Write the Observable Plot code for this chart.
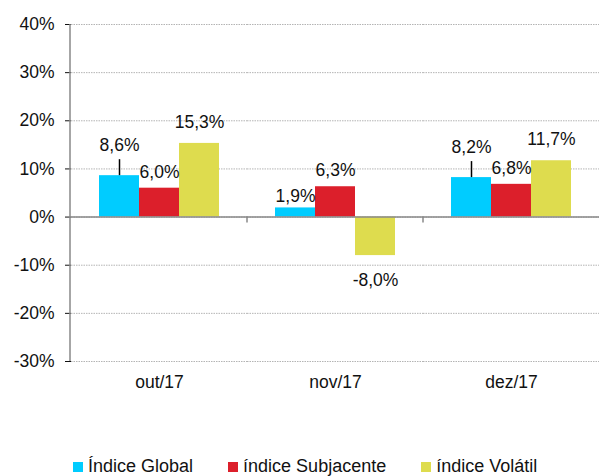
<!DOCTYPE html>
<html>
<head>
<meta charset="utf-8">
<script src="https://cdn.jsdelivr.net/npm/d3@7"></script>
<script src="https://cdn.jsdelivr.net/npm/@observablehq/plot@0.6"></script>
<style>
  body { margin: 0; background: #fff; font-family: "Liberation Sans", Arial, sans-serif; }
  #chart svg g[aria-label="y-axis tick"] { stroke: #888; }
  #legend { display: flex; align-items: center; margin: 56px 0 0 73px; font-size: 18px; color: #111; }
  #legend .item { display: flex; align-items: center; margin-right: 35px; }
  #legend .sq { width: 10px; height: 10px; margin-right: 5px; }
</style>
</head>
<body>
<div id="chart"></div>
<div id="legend"></div>
<script>
// dados
const meses = ["out/17", "nov/17", "dez/17"];
const series = ["Índice Global", "índice Subjacente", "índice Volátil"];
const global = [8.6, 1.9, 8.2];
const subjacente = [6.0, 6.3, 6.8];
const volatil = [15.3, -8.0, 11.7];
const cores = ["#00ccff", "#dc1f2b", "#dedc4e"];
const yTicks = [-30, -20, -10, 0, 10, 20, 30, 40];

const valores = [global, subjacente, volatil];
const data = series.flatMap((s, i) => meses.map((m, j) => ({mes: m, serie: s, valor: valores[i][j]})));
const fmt = d => d.valor.toFixed(1).replace(".", ",") + "%";

const rotulo = (filtro, dy) => Plot.text(data.filter(filtro), {
  fx: "mes", x: "serie", y: "valor", text: fmt, dy, fill: "#111"
});

const chart = Plot.plot({
  width: 599,
  height: 400,
  marginTop: 24,
  marginLeft: 70,
  marginRight: 0,
  marginBottom: 39,
  style: {fontSize: "17.5px", fontFamily: "Liberation Sans, Arial, sans-serif", color: "#111", overflow: "visible"},
  fx: {domain: meses, padding: 0, label: null, axis: "bottom", tickSize: 0, tickPadding: 14},
  x: {domain: series, axis: null, paddingInner: 0, paddingOuter: 0.7},
  y: {domain: [-30, 40], ticks: yTicks, tickFormat: d => d + "%", tickSize: 6, tickPadding: 11, label: null},
  color: {domain: series, range: cores},
  marks: [
    Plot.gridY(yTicks, {stroke: "#b4b4b4", strokeOpacity: 1, strokeDasharray: "1.5,1"}),
    Plot.barY(data, {fx: "mes", x: "serie", y: "valor", fill: "serie"}),
    Plot.ruleY([0], {stroke: "#888", strokeWidth: 1.5}),
    // linhas de chamada
    Plot.ruleX(data.filter(d => d.serie === series[0] && d.valor > 5), {
      fx: "mes", x: "serie", y1: "valor", y2: "valor", insetBottom: 16, stroke: "#000", strokeWidth: 1.5
    }),
    rotulo(d => d.serie === series[0] && d.valor > 5, -30),
    rotulo(d => d.serie === series[0] && d.valor <= 5, -12),
    rotulo(d => d.serie === series[1], -16),
    rotulo(d => d.serie === series[2] && d.valor > 0, -21),
    rotulo(d => d.valor < 0, 25)
  ]
});

// eixo vertical e marcas entre categorias
const ys = chart.scale("y");
const fxs = chart.scale("fx");
const svg = d3.select(chart);
svg.append("line")
  .attr("x1", 70).attr("x2", 70)
  .attr("y1", ys.apply(40)).attr("y2", ys.apply(-30))
  .attr("stroke", "#888").attr("stroke-width", 1.5);
meses.slice(1).forEach(m => {
  const x = fxs.apply(m);
  svg.append("line")
    .attr("x1", x).attr("x2", x)
    .attr("y1", ys.apply(0)).attr("y2", ys.apply(0) + 6)
    .attr("stroke", "#888").attr("stroke-width", 1.5);
});

d3.select("#chart").append(() => chart);

// legenda
const legend = d3.select("#legend");
series.forEach((s, i) => {
  const item = legend.append("div").attr("class", "item");
  item.append("div").attr("class", "sq").style("background", cores[i]);
  item.append("span").text(s);
});
</script>
</body>
</html>
